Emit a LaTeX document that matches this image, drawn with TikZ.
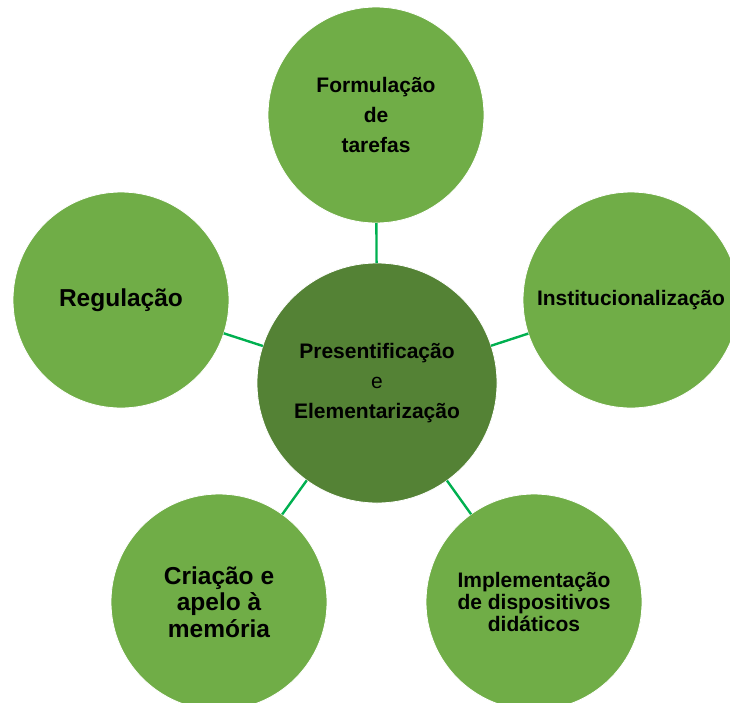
\documentclass[tikz,border=0pt]{standalone}
\usepackage{fontspec}
\setmainfont{Liberation Sans}
\definecolor{outergreen}{HTML}{70AD47}
\definecolor{innergreen}{HTML}{548235}
\definecolor{linkgreen}{HTML}{00B050}
\begin{document}
\begin{tikzpicture}[x=1pt,y=-1pt,
  outercircle/.style={circle, fill=outergreen, draw=white, line width=0.8pt, minimum size=216pt, inner sep=0pt, outer sep=0pt, align=center},
  innercircle/.style={circle, fill=innergreen, draw=white, line width=0.8pt, minimum size=240pt, inner sep=0pt, outer sep=0pt, align=center},
  txtA/.style={font=\fontsize{21}{30}\selectfont\bfseries},
  txtB/.style={font=\fontsize{24.5}{26.7}\selectfont\bfseries},
  txtC/.style={font=\fontsize{21}{21.7}\selectfont\bfseries},
  connector/.style={draw=linkgreen, line width=2.4pt}]
\useasboundingbox (0,0) rectangle (730,702);
\node[innercircle, txtA] (center) at (377,383) {Presentificação\\{\mdseries e}\\Elementarização};
\node[outercircle, txtA] (top) at (376,115) {Formulação\\de\\tarefas};
\node[outercircle, txtA] (right) at (631,300) {Institucionalização};
\node[outercircle, txtB] (left) at (121,300) {Regulação};
\node[outercircle, txtB] (botleft) at (219,602) {Criação e\\apelo à\\memória};
\node[outercircle, txtC] (botright) at (534,602) {Implementação\\de dispositivos\\didáticos};
\draw[connector] (center) -- (top);
\draw[connector] (center) -- (right);
\draw[connector] (center) -- (left);
\draw[connector] (center) -- (botleft);
\draw[connector] (center) -- (botright);
\end{tikzpicture}
\end{document}
